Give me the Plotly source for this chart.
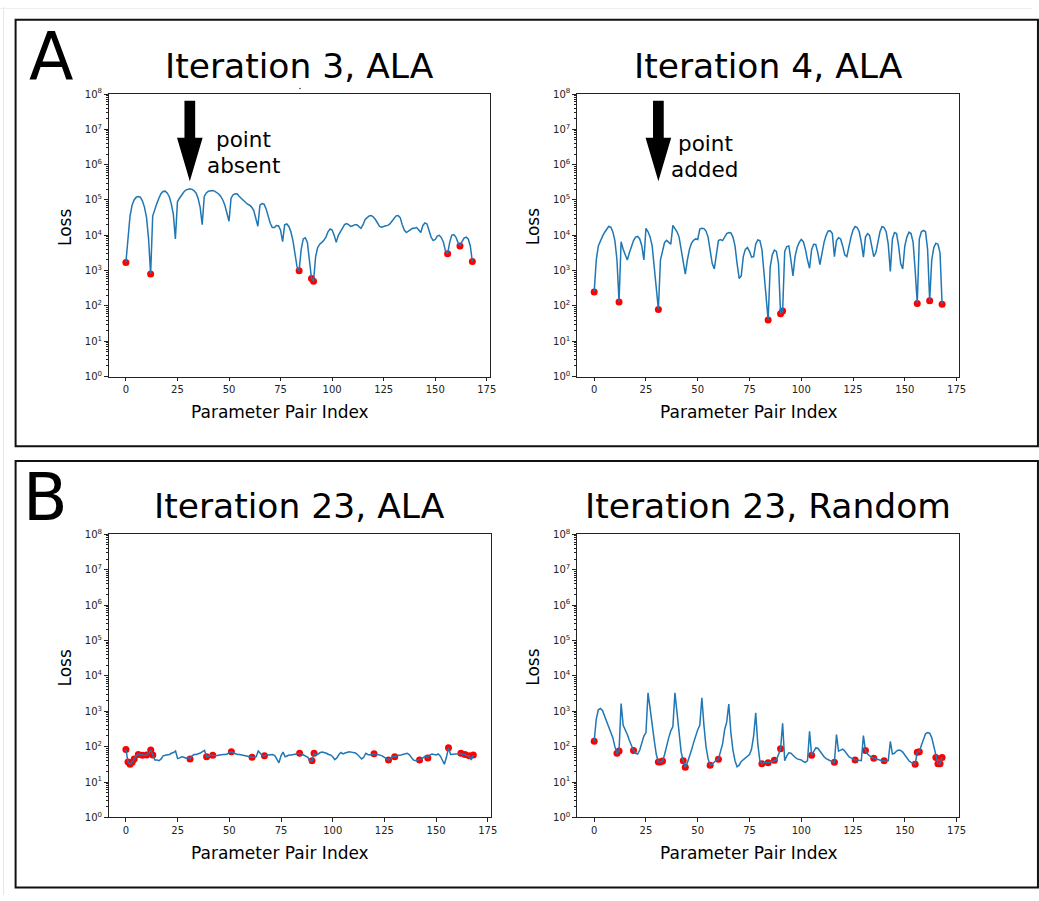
import plotly.graph_objects as go

W, H = 1039, 901
FONT = "DejaVu Sans"

# ---------------- data ----------------
it3_ala_loss = [
    1700, 10000, 35000, 71000, 100000, 120000, 126000, 120000, 95000, 63000,
    32000, 7900, 800, 35000, 56000, 79000, 112000, 151000, 174000, 178000,
    158000, 126000, 79000, 40000, 7900, 89000, 112000, 141000, 166000, 191000,
    204000, 209000, 200000, 186000, 158000, 112000, 63000, 20000, 126000, 158000,
    178000, 186000, 186000, 178000, 166000, 148000, 126000, 100000, 71000, 45000,
    25000, 112000, 141000, 151000, 148000, 126000, 112000, 95000, 83000, 76000,
    71000, 63000, 50000, 28000, 18000, 71000, 79000, 76000, 56000, 35000,
    22000, 16600, 16600, 19000, 18600, 14000, 6600, 20000, 21000, 17800,
    12600, 7100, 3200, 1260, 1000, 4000, 7900, 8500, 6300, 2000,
    600, 500, 2500, 4500, 5600, 6300, 7200, 8900, 12600, 15100,
    14100, 10000, 6300, 10000, 13200, 15800, 20000, 21400, 20000, 17800,
    18600, 20000, 20000, 17800, 15800, 20000, 28000, 31600, 35500, 36300,
    33000, 28000, 22400, 17800, 17000, 18200, 18600, 19100, 21000, 25000,
    30000, 35500, 36300, 31600, 20000, 14100, 12000, 13200, 14800, 15800,
    15800, 16600, 14100, 12000, 19000, 22400, 21000, 14100, 8900, 7100,
    7600, 9500, 10000, 8500, 6300, 3500, 3000, 6300, 10000, 10500,
    8900, 6300, 5000, 6600, 8300, 8900, 7900, 5000, 1800,
]
it3_ala_pts_x = [0, 12, 84, 90, 91, 156, 162, 168]
it3_ala_pts_y = [1700, 800, 1000, 600, 500, 3000, 5000, 1800]

it4_ala_loss = [
    250, 2000, 5000, 7100, 9300, 12000, 15100, 17800, 17000, 12600,
    7100, 2000, 130, 6600, 4000, 2800, 2000, 3200, 5000, 7100,
    8900, 9300, 7900, 5000, 2000, 15800, 12600, 8900, 5000, 1260,
    320, 80, 2000, 4000, 6300, 7200, 6300, 5600, 19100, 15800,
    12600, 8900, 4000, 1580, 790, 2000, 4000, 6000, 7200, 7900,
    7600, 15100, 15800, 15500, 13200, 8900, 4000, 1580, 1120, 3200,
    7100, 7600, 7100, 8900, 11200, 12000, 11700, 8900, 5000, 1580,
    600, 710, 2500, 4000, 4500, 3500, 2400, 2500, 5600, 7400,
    7100, 4000, 1000, 160, 40, 1260, 2800, 3800, 3500, 1580,
    60, 72, 3500, 4800, 5000, 2000, 710, 2500, 4500, 6300,
    7600, 6600, 4000, 2000, 1170, 4000, 5600, 5500, 3200, 1480,
    3200, 6300, 10000, 13200, 13500, 11200, 2500, 7100, 8500, 7900,
    5000, 2800, 2500, 5000, 8900, 14100, 17800, 16600, 12600, 6300,
    2400, 8900, 11200, 10000, 5000, 2500, 3200, 7100, 12600, 17800,
    16600, 12600, 5600, 950, 7900, 12000, 11200, 5000, 1580, 1120,
    5000, 8900, 12300, 11200, 6300, 1000, 117, 7900, 12600, 13800,
    12600, 4000, 140, 2000, 4500, 6000, 5600, 3200, 112,
]
it4_ala_pts_x = [0, 12, 31, 84, 90, 91, 156, 162, 168]
it4_ala_pts_y = [250, 130, 80, 40, 60, 72, 117, 140, 112]

it23_ala_loss = [
    83, 37, 32, 36, 45, 55, 60, 58, 57, 57,
    58, 65, 80, 58, 42, 42, 40, 45, 55, 57,
    58, 60, 65, 68, 75, 46, 48, 52, 50, 47,
    50, 45, 55, 60, 60, 62, 66, 72, 78, 52,
    55, 57, 57, 55, 56, 58, 58, 60, 60, 62,
    70, 72, 66, 62, 60, 60, 58, 58, 57, 55,
    52, 50, 50, 52, 75, 62, 55, 55, 58, 58,
    58, 60, 56, 45, 35, 55, 70, 52, 55, 58,
    58, 60, 60, 62, 65, 62, 58, 55, 50, 38,
    40, 65, 58, 62, 68, 70, 68, 65, 60, 58,
    52, 43, 48, 60, 68, 62, 66, 70, 72, 70,
    68, 66, 60, 52, 45, 50, 65, 60, 58, 60,
    63, 62, 60, 58, 55, 50, 45, 42, 48, 52,
    52, 55, 57, 58, 60, 62, 65, 60, 50, 42,
    40, 42, 42, 45, 50, 55, 48, 58, 62, 60,
    58, 62, 55, 42, 32, 50, 93, 60, 60, 62,
    62, 63, 65, 60, 60, 55, 55, 42, 58,
]
it23_ala_pts_x = [0, 1, 2, 3, 4, 6, 8, 10, 12, 13, 31, 39, 42, 51, 61, 67, 84, 90,
                  91, 120, 127, 130, 142, 146, 156, 162, 164, 166, 168]
it23_ala_pts_y = [83, 37, 32, 36, 45, 60, 57, 58, 80, 58, 45, 52, 57, 72, 50, 55, 65, 40,
                  65, 63, 42, 52, 42, 48, 93, 65, 60, 55, 58]

it23_rand_loss = [
    142, 600, 1100, 1200, 1050, 750, 500, 370, 250, 180,
    100, 65, 75, 1650, 400, 300, 220, 150, 110, 78,
    65, 62, 80, 120, 200, 250, 3300, 1200, 350, 150,
    60, 37, 37, 39, 60, 110, 180, 280, 370, 3300,
    900, 200, 70, 40, 26, 35, 50, 80, 130, 200,
    300, 400, 2400, 400, 100, 45, 30, 32, 38, 42,
    44, 70, 120, 300, 500, 1600, 250, 80, 40, 27,
    30, 38, 43, 47, 52, 60, 85, 200, 900, 120,
    40, 33, 35, 35, 35, 36, 38, 41, 42, 60,
    87, 460, 40, 55, 67, 65, 55, 50, 45, 43,
    42, 38, 36, 40, 270, 57, 70, 92, 90, 75,
    60, 52, 46, 42, 40, 38, 36, 220, 75, 80,
    85, 75, 60, 52, 48, 45, 42, 42, 40, 40,
    205, 78, 62, 55, 50, 47, 45, 42, 41, 40,
    40, 38, 40, 140, 62, 65, 75, 80, 78, 70,
    58, 48, 40, 36, 33, 32, 70, 72, 110, 170,
    230, 250, 240, 180, 100, 49, 33, 33, 49,
]
it23_rand_pts_x = [0, 11, 12, 19, 31, 32, 33, 43, 44, 56, 60, 81, 84, 87, 90, 105, 116,
                   126, 131, 135, 140, 155, 156, 157, 165, 166, 167, 168]
it23_rand_pts_y = [142, 65, 75, 78, 37, 37, 39, 40, 26, 30, 44, 33, 35, 41, 87, 57, 36,
                   42, 78, 47, 40, 32, 70, 72, 49, 33, 33, 49]

titles = ["Iteration 3, ALA", "Iteration 4, ALA", "Iteration 23, ALA", "Iteration 23, Random"]
x_ticks = [0, 25, 50, 75, 100, 125, 150, 175]
y_exps = list(range(0, 9))
x_label = "Parameter Pair Index"
y_label = "Loss"

series = [
    (it3_ala_loss, it3_ala_pts_x, it3_ala_pts_y),
    (it4_ala_loss, it4_ala_pts_x, it4_ala_pts_y),
    (it23_ala_loss, it23_ala_pts_x, it23_ala_pts_y),
    (it23_rand_loss, it23_rand_pts_x, it23_rand_pts_y),
]

# ---------------- layout geometry (pixels) ----------------
# (left, right, top, bottom) of each axes box
boxes = [
    (109.3, 493.0, 88.3, 375.0),
    (580.7, 966.0, 88.3, 375.0),
    (109.3, 494.0, 535.0, 822.3),
    (580.7, 966.0, 535.0, 822.3),
]
XMIN, XMAX = -8.4, 176.4


def fx(p):
    return p / W


def fy(p):
    return 1 - p / H


fig = go.Figure()
annotations = []
shapes = []

for i, ((loss, px_, py_), (l, r, t, b)) in enumerate(zip(series, boxes)):
    n = "" if i == 0 else str(i + 1)
    xa, ya = "x" + n, "y" + n
    fig.add_trace(go.Scatter(
        x=px_, y=py_, mode="markers", xaxis=xa, yaxis=ya,
        marker=dict(color="red", size=7, line=dict(width=0)), showlegend=False,
    ))
    fig.add_trace(go.Scatter(
        x=list(range(len(loss))), y=loss, mode="lines", xaxis=xa, yaxis=ya,
        line=dict(color="#1f77b4", width=1.5), showlegend=False,
    ))
    common = dict(showline=True, linecolor="#222", linewidth=1, mirror=True,
                  ticks="outside", ticklen=3.5, tickwidth=1, tickcolor="#222",
                  showgrid=False, zeroline=False,
                  tickfont=dict(family=FONT, size=10, color="#222"))
    fig.layout["xaxis" + n] = dict(
        domain=[fx(l), fx(r)], anchor=ya, range=[XMIN, XMAX],
        tickvals=x_ticks, ticktext=[str(v) for v in x_ticks], **common)
    fig.layout["yaxis" + n] = dict(
        domain=[fy(b), fy(t)], anchor=xa, type="log", range=[0, 8],
        tickvals=[10 ** e for e in y_exps],
        ticktext=["10<sup>%d</sup>" % e for e in y_exps],
        minor=dict(ticks="outside", ticklen=2, tickcolor="#222", showgrid=False,
                   tickvals=[m * 10 ** e for e in range(0, 8) for m in range(2, 10)]),
        **common)
    cx = (l + r) / 2
    # title
    annotations.append(dict(text=titles[i], xref="paper", yref="paper",
                            x=fx(cx), y=fy(t - 28.5), xanchor="center", yanchor="middle",
                            showarrow=False, font=dict(family=FONT, size=34.5, color="black")))
    # x label
    annotations.append(dict(text=x_label, xref="paper", yref="paper",
                            x=fx(cx - 19.5), y=fy(b + 35.8), xanchor="center", yanchor="middle",
                            showarrow=False, font=dict(family=FONT, size=17, color="black")))
    # y label
    annotations.append(dict(text=y_label, xref="paper", yref="paper",
                            x=fx(l - 44), y=fy((t + b) / 2 - 8.3), xanchor="center", yanchor="middle",
                            textangle=-90, showarrow=False,
                            font=dict(family=FONT, size=17, color="black")))

# panel letters
annotations.append(dict(text="A", xref="paper", yref="paper", x=fx(27), y=fy(50),
                        xanchor="left", yanchor="middle", showarrow=False,
                        font=dict(family=FONT, size=65, color="black")))
annotations.append(dict(text="B", xref="paper", yref="paper", x=fx(21), y=fy(498),
                        xanchor="left", yanchor="middle", showarrow=False,
                        font=dict(family=FONT, size=65, color="black")))

# arrow notes
notes = [
    (0, "point", "absent", 245.0, 134.3, 244.7, 161.0),
    (1, "point", "added", 710.0, 138.3, 709.0, 165.3),
]
for idx, t1, t2, x1, y1, x2, y2 in notes:
    for txt, xx, yy in ((t1, x1, y1), (t2, x2, y2)):
        annotations.append(dict(text=txt, xref="paper", yref="paper", x=fx(xx), y=fy(yy),
                                xanchor="center", yanchor="middle", showarrow=False,
                                font=dict(family=FONT, size=21.5, color="black")))

arrow_index = 31
for i in (0, 1):
    l, r, t, b = boxes[i]
    tipx = l + (arrow_index - XMIN) / (XMAX - XMIN) * (r - l)
    tipy, headtop, shafttop = 176.7, 132.7, 95.0
    sw, hw = 5.4, 12.9
    pts = [(tipx - sw, shafttop), (tipx + sw, shafttop), (tipx + sw, headtop),
           (tipx + hw, headtop), (tipx, tipy), (tipx - hw, headtop), (tipx - sw, headtop)]
    path = "M " + " L ".join("%.5f %.5f" % (fx(a), fy(c)) for a, c in pts) + " Z"
    shapes.append(dict(type="path", xref="paper", yref="paper", path=path,
                       fillcolor="black", line=dict(width=0)))

# panel frames
shapes.append(dict(type="rect", xref="paper", yref="paper", x0=fx(15.7), x1=fx(1045),
                   y0=fy(445.7), y1=fy(13.0), line=dict(color="#111", width=2)))
shapes.append(dict(type="rect", xref="paper", yref="paper", x0=fx(15.7), x1=fx(1045),
                   y0=fy(893.3), y1=fy(460.7), line=dict(color="#111", width=2)))
# faint outer edge
shapes.append(dict(type="line", xref="paper", yref="paper", x0=fx(3.5), x1=fx(3.5),
                   y0=0, y1=1, line=dict(color="#e6e6e6", width=1)))
shapes.append(dict(type="line", xref="paper", yref="paper", x0=0, x1=1,
                   y0=fy(1.5), y1=fy(1.5), line=dict(color="#eeeeee", width=1)))
# small speck above first panel
shapes.append(dict(type="circle", xref="paper", yref="paper", x0=fx(301.2), x1=fx(302.8),
                   y0=fy(83.5), y1=fy(81.9), fillcolor="#333", line=dict(width=0)))

fig.update_layout(width=W, height=H, autosize=False,
                  margin=dict(l=0, r=0, t=0, b=0),
                  paper_bgcolor="white", plot_bgcolor="white",
                  annotations=annotations, shapes=shapes,
                  font=dict(family=FONT))

fig.write_html("out.html")
